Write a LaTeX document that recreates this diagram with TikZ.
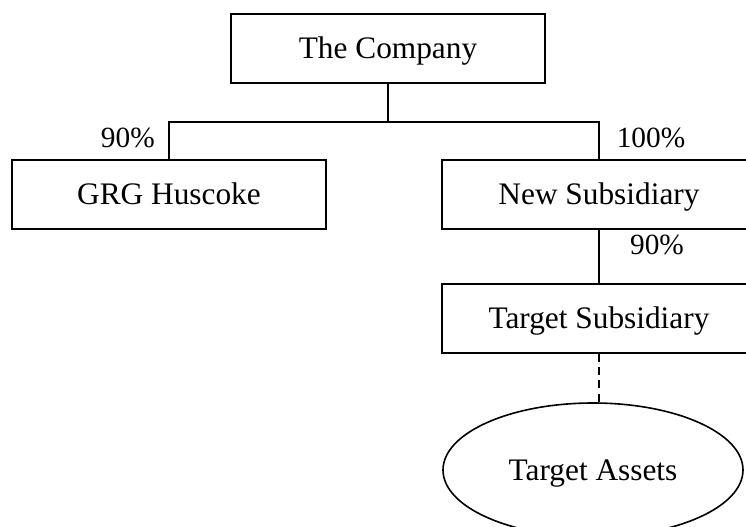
\documentclass[tikz,border=0pt]{standalone}
\usepackage{fontspec}
\setmainfont{Liberation Serif}
\usetikzlibrary{shapes.geometric}
\tikzset{
  orgbox/.style={draw, line width=1.2pt, minimum width=235.5pt, minimum height=51.75pt, inner sep=0pt, text height=15.5pt, text depth=0pt, font=\fontsize{23.5}{28}\selectfont},
  assetell/.style={draw, ellipse, line width=1.2pt, minimum width=225pt, minimum height=100.5pt, inner sep=0pt, text height=15.5pt, text depth=0pt, font=\fontsize{23.5}{28}\selectfont},
  link/.style={line width=0.9pt},
  pct/.style={inner sep=0pt, text height=15pt, text depth=0pt, font=\fontsize{22}{26}\selectfont}
}
\begin{document}
\begin{tikzpicture}[x=0.75pt,y=-0.75pt]
\useasboundingbox (0,0) rectangle (746,527);
\clip (0,0) rectangle (746,527);
\node[orgbox] (company) at (388,48.5) {The Company};
\node[orgbox] (grg) at (169,194.5) {GRG Huscoke};
\node[orgbox] (newsub) at (599,194.5) {New Subsidiary};
\node[orgbox] (targetsub) at (599,318.5) {Target Subsidiary};
\node[assetell] (assets) at (593,470) {Target Assets};
\coordinate (bus) at (388,122);
\draw[link] (company.south) -- (bus);
\draw[link] (grg.north) |- (bus) -| (newsub.north);
\draw[link] (newsub.south) -- (targetsub.north);
\draw[line width=1pt, dash pattern=on 6pt off 4pt] (targetsub.south) -- (targetsub.south |- assets.north);
\node[pct, anchor=east] (p1) at (155,138) {90\%};
\node[pct] (p2) at (651,138) {100\%};
\node[pct] (p3) at (657,245) {90\%};
\end{tikzpicture}
\end{document}
